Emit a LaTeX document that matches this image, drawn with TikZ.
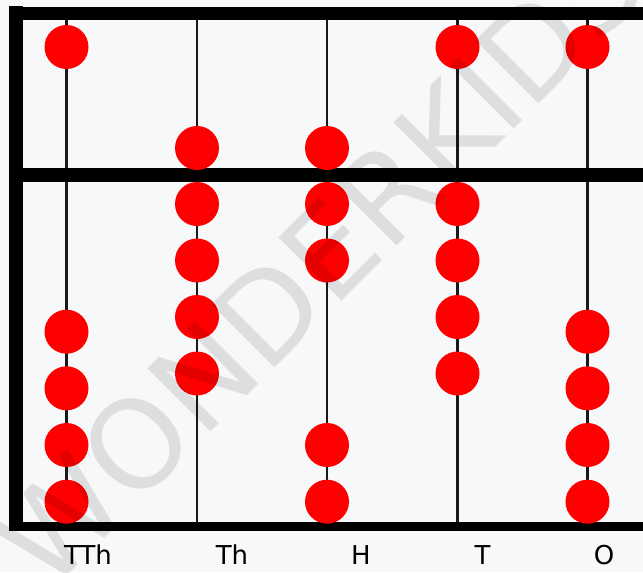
\documentclass[tikz,border=0pt]{standalone}
\usepackage{fontspec}
\setmainfont{DejaVu Sans}
\usepackage{tikz}
\usetikzlibrary{calc}

\definecolor{paper}{HTML}{F7F8FA}
\definecolor{beadred}{HTML}{FF0000}

\begin{document}
\begin{tikzpicture}[x=0.02cm,y=-0.02cm,
  bar/.style={line width=7.9pt,black},
  rod/.style={line width=1.2pt,black!90},
  bead/.style={fill=beadred},
  lab/.style={anchor=base,inner sep=0pt,font=\fontsize{14.8}{18}\selectfont},
  wm/.style={anchor=base west,inner sep=0pt,rotate=45,text=black,text opacity=0.1,font=\fontsize{69.7}{80}\selectfont}]
\useasboundingbox (0,0) rectangle (643,572);
\clip (0,0) rectangle (643,572);
\fill[paper] (0,0) rectangle (643,572);
% rods
\draw[rod] (66.5,13) -- (66.5,527);
\draw[rod] (197,13) -- (197,527);
\draw[rod] (327,13) -- (327,527);
\draw[rod] (457.5,13) -- (457.5,527);
\draw[rod] (587.5,13) -- (587.5,527);
% frame and beam
\draw[bar] (16.3,6) -- (16.3,531);
\draw[bar,line width=7.4pt] (9,13) -- (660,13);
\draw[bar] (9,175) -- (660,175);
\draw[bar,line width=5.1pt] (9,526.5) -- (660,526.5);
% beads
\fill[bead] (66.5,47) circle (22) (66.5,331.7) circle (22) (66.5,388.3) circle (22) (66.5,445) circle (22) (66.5,501.7) circle (22);
\fill[bead] (197,148) circle (22) (197,204) circle (22) (197,260.5) circle (22) (197,317) circle (22) (197,373.5) circle (22);
\fill[bead] (327,148) circle (22) (327,204) circle (22) (327,260.5) circle (22) (327,445) circle (22) (327,501.7) circle (22);
\fill[bead] (457.5,47) circle (22) (457.5,204) circle (22) (457.5,260.5) circle (22) (457.5,317) circle (22) (457.5,373.5) circle (22);
\fill[bead] (587.5,47) circle (22) (587.5,331.7) circle (22) (587.5,388.3) circle (22) (587.5,445) circle (22) (587.5,501.7) circle (22);
% place values
\node[lab] (tth) at (88,564) {TTh};
\node[lab] (th) at (232,564) {Th};
\node[lab] (h) at (361,564) {H};
\node[lab] (t) at (482.5,564) {T};
\node[lab] (o) at (604,564) {O};
% watermark
\node[wm] (wmark) at (48,595) {WONDERKIDS};
\end{tikzpicture}
\end{document}
